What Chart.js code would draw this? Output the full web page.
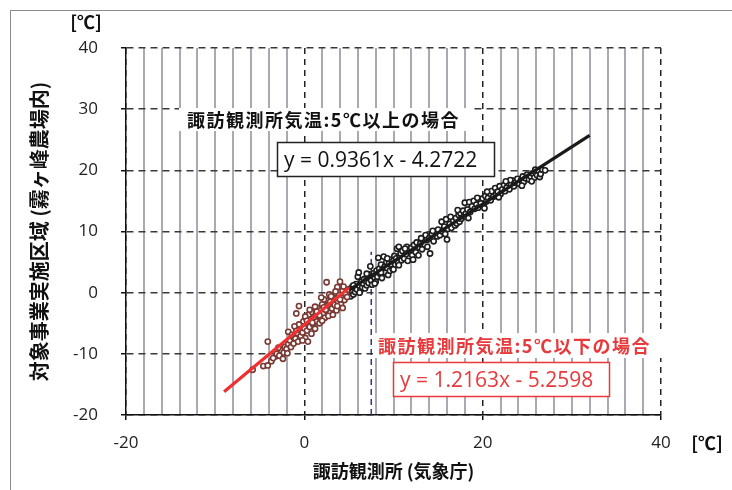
<!DOCTYPE html>
<html>
<head>
<meta charset="utf-8">
<script src="https://cdn.jsdelivr.net/npm/chart.js@4/dist/chart.umd.min.js"></script>
<style>
  body { margin: 0; background: #fff; }
  canvas { display: block; }
</style>
</head>
<body>
<canvas id="c" width="732" height="490"></canvas>
<script>
// 諏訪観測所 と 対象事業実施区域 の気温の比較（散布図）

// 軸の目盛り
const xTicks = [-20, 0, 20, 40];
const yTicks = [-20, -10, 0, 10, 20, 30, 40];

// 5℃以下の場合（茶色の点）
const redPts = [
  [-5.8,-12.6],[-4.6,-12.0],[-4.1,-11.9],[-4.1,-8.0],[-3.7,-11.2],[-3.2,-10.4],[-3.1,-10.0],
  [-2.8,-10.3],[-2.6,-9.4],[-2.3,-9.8],[-2.2,-8.9],[-2.0,-9.2],[-1.8,-6.4],[-1.8,-8.4],
  [-1.6,-7.8],[-1.5,-8.9],[-1.3,-7.2],[-1.2,-8.3],[-1.0,-7.5],[-0.9,-3.4],[-0.8,-6.6],
  [-0.7,-8.0],[-0.6,-2.2],[-0.5,-6.0],[-0.4,-7.1],[-0.3,-5.3],[-0.2,-6.5],[-0.1,-4.7],
  [0.0,-5.8],[0.1,-7.4],[0.2,-4.2],[0.3,-6.2],[0.4,-5.0],[0.5,-3.6],[0.6,-5.6],[0.7,-4.4],
  [0.8,-6.7],[0.9,-3.2],[1.0,-5.2],[1.1,-4.0],[1.2,-5.9],[1.3,-3.4],[1.4,-4.7],[1.5,-2.5],
  [1.6,-3.9],[1.7,-5.0],[1.8,-2.9],[1.9,-4.3],[2.0,-1.9],[2.1,-3.5],[2.2,-2.4],[2.3,-4.1],
  [2.5,1.7],[2.5,-1.3],[2.6,-3.0],[2.7,-2.0],[2.8,-0.3],[2.9,-3.3],[3.0,-1.6],[3.1,-2.6],
  [3.3,-0.8],[3.4,-2.0],[3.5,-1.1],[3.6,-2.9],[3.7,0.9],[3.8,-1.5],[3.9,-0.4],[4.0,1.8],
  [4.1,-1.9],[4.2,-0.9],[4.3,0.3],[4.5,-1.2],[4.6,-0.2],[4.8,-0.7],[4.9,0.5],
  [-2.4,-10.8],[-1.9,-9.9],[-1.4,-6.9],[-0.9,-6.1],[-0.6,-5.2],[-0.2,-7.8],[0.1,-3.9],
  [0.3,-4.6],[0.6,-2.8],[0.9,-4.9],[1.2,-2.3],[1.4,-3.1],[1.7,-3.7],[2.0,-4.6],[2.2,-1.1],
  [2.4,-2.8],[2.7,-3.8],[3.0,-0.6],[3.2,-3.6],[3.5,0.2],[3.7,-2.2],[4.0,-1.1],[4.3,-2.5],
  [4.4,1.0],[-3.5,-10.7],[-2.9,-9.0],[-1.1,-5.5],[0.4,-8.0],[1.9,-0.8],[2.9,-1.5]
];

// 5℃以上の場合（黒の点）
const blackPts = [
  [5.0,-0.2],[5.1,0.6],[5.2,-0.6],[5.3,0.3],[5.4,1.0],[5.5,-0.3],[5.6,0.8],[5.7,0.1],[5.8,1.4],
  [5.9,0.5],[6.0,2.6],[6.1,3.3],[6.2,1.1],[6.3,0.4],[6.4,1.8],[6.5,0.9],[6.6,1.5],[6.7,2.2],
  [6.8,0.7],[6.9,1.9],[7.0,1.2],[7.1,2.5],[7.2,1.6],[7.3,3.0],[7.4,4.3],[7.5,2.0],[7.6,1.3],
  [7.7,2.8],[7.8,3.2],[7.9,2.3],[8.0,1.8],[8.1,3.6],[8.2,2.6],[8.3,5.7],[8.4,3.9],[8.5,3.1],
  [8.6,4.6],[8.7,2.4],[8.8,3.7],[8.9,5.9],[9.0,4.2],[9.1,3.3],[9.2,5.0],[9.3,4.0],[9.4,2.9],
  [9.5,4.8],[9.6,3.6],[9.7,5.4],[9.8,4.4],[9.9,3.9],[10.0,5.2],[10.1,6.0],[10.2,4.6],[10.3,5.6],
  [10.4,7.2],[10.5,4.9],[10.6,7.5],[10.7,5.9],[10.8,6.4],[10.9,5.3],[11.0,6.8],[11.2,5.6],
  [11.4,6.3],[11.5,7.5],[11.6,5.2],[11.8,6.9],[12.0,7.3],[12.1,6.1],[12.3,7.8],[12.5,6.6],
  [12.6,8.2],[12.8,6.1],[12.9,7.4],[13.0,8.0],[13.2,7.1],[13.4,8.6],[13.6,9.4],[13.7,8.6],
  [13.8,7.5],[14.0,8.9],[14.1,6.4],[14.3,9.6],[14.5,8.4],[14.7,9.9],[14.9,9.2],[15.0,10.3],
  [15.2,9.4],[15.4,11.6],[15.5,10.0],[15.7,10.8],[15.9,12.0],[16.0,8.7],[16.1,10.4],[16.3,11.2],
  [16.5,10.6],[16.7,11.8],[16.9,11.0],[17.0,12.2],[17.1,11.3],[17.3,12.7],[17.4,11.6],[17.5,13.0],
  [17.6,12.1],[17.8,13.4],[17.9,12.5],[18.0,14.7],[18.1,12.9],[18.3,13.6],[18.5,14.8],[18.6,13.2],
  [18.8,14.1],[19.0,15.0],[19.1,13.7],[19.3,14.4],[19.5,13.9],[19.6,15.1],[19.8,14.6],[20.0,15.4],
  [20.1,14.2],[20.3,15.8],[20.4,14.9],[20.6,15.5],[20.8,16.2],[20.9,15.1],[21.0,16.6],[21.2,15.7],
  [21.4,17.1],[21.5,16.0],[21.7,16.5],[21.9,17.4],[22.0,16.1],[22.2,16.9],[22.4,17.6],[22.5,16.6],
  [22.7,17.2],[22.9,17.9],[23.0,16.9],[23.2,17.7],[23.4,18.3],[23.5,17.4],[23.7,18.0],[23.9,18.6],
  [24.1,17.8],[24.3,18.4],[24.5,19.0],[24.6,18.1],[24.8,18.7],[25.0,19.3],[25.2,18.5],[25.4,19.0],
  [25.6,19.5],[25.8,18.8],[25.9,20.1],[26.0,19.6],[26.1,19.2],[26.3,19.9],[26.4,18.9],[26.5,19.4],
  [26.7,20.1],[27.0,20.0],
  [5.5,1.2],[6.2,0.0],[7.0,3.1],[7.9,1.5],[8.6,3.3],[9.3,5.6],[10.0,3.8],[10.6,4.5],[11.3,7.2],
  [12.2,5.4],[13.1,8.9],[14.4,10.1],[15.8,9.6],[17.2,13.5],[18.4,12.2],[19.4,15.5],[20.5,16.5],
  [21.8,15.6],[23.1,18.4],[24.4,17.5],[25.5,18.2],[22.6,18.2],[20.2,13.8],[16.4,12.4]
];

// 近似直線（両端）
const redLine = [[-9.0,-16.2],[5.0,0.8]];
const blackLine = [[5.0,0.4],[32.0,25.7]];
// 5℃付近の縦破線
const dividerLine = [[7.5,-20],[7.5,6.7]];

const toXY = pts => pts.map(p => ({ x: p[0], y: p[1] }));

const CJK = "'Noto Sans CJK JP', sans-serif";
const NUM = "'Open Sans', sans-serif";

// ラベル・枠を描くプラグイン
const decor = {
  id: 'decor',
  beforeDraw(chart) {
    const ctx = chart.ctx;
    ctx.save();
    ctx.strokeStyle = '#8c8c8c';
    ctx.lineWidth = 1;
    ctx.strokeRect(10.5, 10.5, 800, 600);
    ctx.restore();
  },
  afterDatasetsDraw(chart) {
    const ctx = chart.ctx;
    ctx.save();
    // 上側ラベル
    ctx.fillStyle = '#fff';
    ctx.fillRect(179, 108, 292, 23);
    ctx.letterSpacing = '1.5px';
    ctx.font = 'bold 18px ' + CJK;
    ctx.textBaseline = 'middle';
    ctx.fillStyle = '#111';
    ctx.fillText('諏訪観測所気温:5℃以上の場合', 187, 120);
    // 上側の式
    ctx.letterSpacing = '0px';
    ctx.fillStyle = '#fff';
    ctx.fillRect(277, 142, 218, 35);
    ctx.strokeStyle = '#222';
    ctx.lineWidth = 1.5;
    ctx.strokeRect(277.5, 142.5, 217, 34);
    ctx.font = '21px ' + NUM;
    ctx.fillStyle = '#111';
    ctx.fillText('y = 0.9361x - 4.2722', 284, 161);
    // 下側ラベル
    ctx.fillStyle = '#fff';
    ctx.fillRect(373, 333, 290, 25);
    ctx.letterSpacing = '1.5px';
    ctx.font = 'bold 18px ' + CJK;
    ctx.fillStyle = '#e8393c';
    ctx.fillText('諏訪観測所気温:5℃以下の場合', 378, 346);
    // 下側の式
    ctx.letterSpacing = '0px';
    ctx.fillStyle = '#fff';
    ctx.fillRect(393, 362, 217, 35);
    ctx.strokeStyle = '#e8393c';
    ctx.lineWidth = 1.5;
    ctx.strokeRect(393.5, 362.5, 216, 34);
    ctx.font = '21px ' + NUM;
    ctx.fillStyle = '#e8393c';
    ctx.fillText('y = 1.2163x - 5.2598', 400, 381);
    // 単位
    ctx.font = 'bold 18px ' + CJK;
    ctx.fillStyle = '#111';
    ctx.textAlign = 'center';
    ctx.fillText('[℃]', 86, 22);
    ctx.fillText('[℃]', 707, 443);
    ctx.restore();
  }
};

const isMajorX = v => v % 20 === 0;

new Chart(document.getElementById('c'), {
  type: 'scatter',
  data: {
    datasets: [
      {
        data: toXY(redLine), showLine: true, borderColor: '#ee3030', borderWidth: 3.2,
        pointRadius: 0
      },
      {
        data: toXY(blackLine), showLine: true, borderColor: '#1a1a1a', borderWidth: 3.2,
        pointRadius: 0
      },
      {
        data: toXY(redPts), pointRadius: 2.6, pointBorderWidth: 1.6,
        borderColor: '#7a3a34', backgroundColor: '#fff'
      },
      {
        data: toXY(blackPts), pointRadius: 2.6, pointBorderWidth: 1.6,
        borderColor: '#1e1e1e', backgroundColor: '#fff'
      },
      {
        data: toXY(dividerLine), showLine: true, borderColor: '#2b2b6b', borderWidth: 1.4,
        borderDash: [6, 4], pointRadius: 0
      }
    ]
  },
  options: {
    responsive: false,
    animation: false,
    devicePixelRatio: 1,
    layout: { padding: { left: 0, top: 48, right: 71, bottom: 0 } },
    plugins: { legend: { display: false }, tooltip: { enabled: false } },
    scales: {
      x: {
        type: 'linear', min: -20, max: 40,
        afterFit: s => { s.height = 75; },
        ticks: {
          stepSize: 2, autoSkip: false, maxRotation: 0, padding: 13,
          color: '#222', font: { family: NUM, size: 17 },
          callback: v => (xTicks.includes(v) ? String(v) : '')
        },
        grid: {
          color: c => (isMajorX(c.tick.value) ? '#222' : '#a9a9b3'),
          lineWidth: c => (isMajorX(c.tick.value) ? 1.5 : 2),
          tickLength: 5,
          tickColor: c => (isMajorX(c.tick.value) ? '#111' : 'rgba(0,0,0,0)'),
          tickWidth: 1.5
        },
        border: {
          color: '#111', width: 1.5,
          dash: c => (c.tick && isMajorX(c.tick.value) ? [6, 5] : [])
        },
        title: {
          display: true, text: '諏訪観測所 (気象庁)', color: '#111',
          font: { family: CJK, size: 18, weight: 'bold' },
          padding: { top: 0, bottom: 8 }
        }
      },
      y: {
        type: 'linear', min: -20, max: 40,
        afterFit: s => { s.width = 126; },
        afterBuildTicks: s => { s.ticks = yTicks.map(v => ({ value: v })); },
        ticks: {
          padding: 23, color: '#222', font: { family: NUM, size: 17 }
        },
        grid: {
          color: '#3a3a3a', lineWidth: 1.5, tickLength: 5, tickColor: '#111', tickWidth: 1.5
        },
        border: { color: '#111', width: 1.5, dash: [7, 5] },
        title: {
          display: true, text: '対象事業実施区域 (霧ヶ峰農場内)', color: '#111',
          font: { family: CJK, size: 20, weight: 'bold' },
          padding: { top: 27, bottom: 0 }
        }
      }
    }
  },
  plugins: [decor]
});
</script>
</body>
</html>
